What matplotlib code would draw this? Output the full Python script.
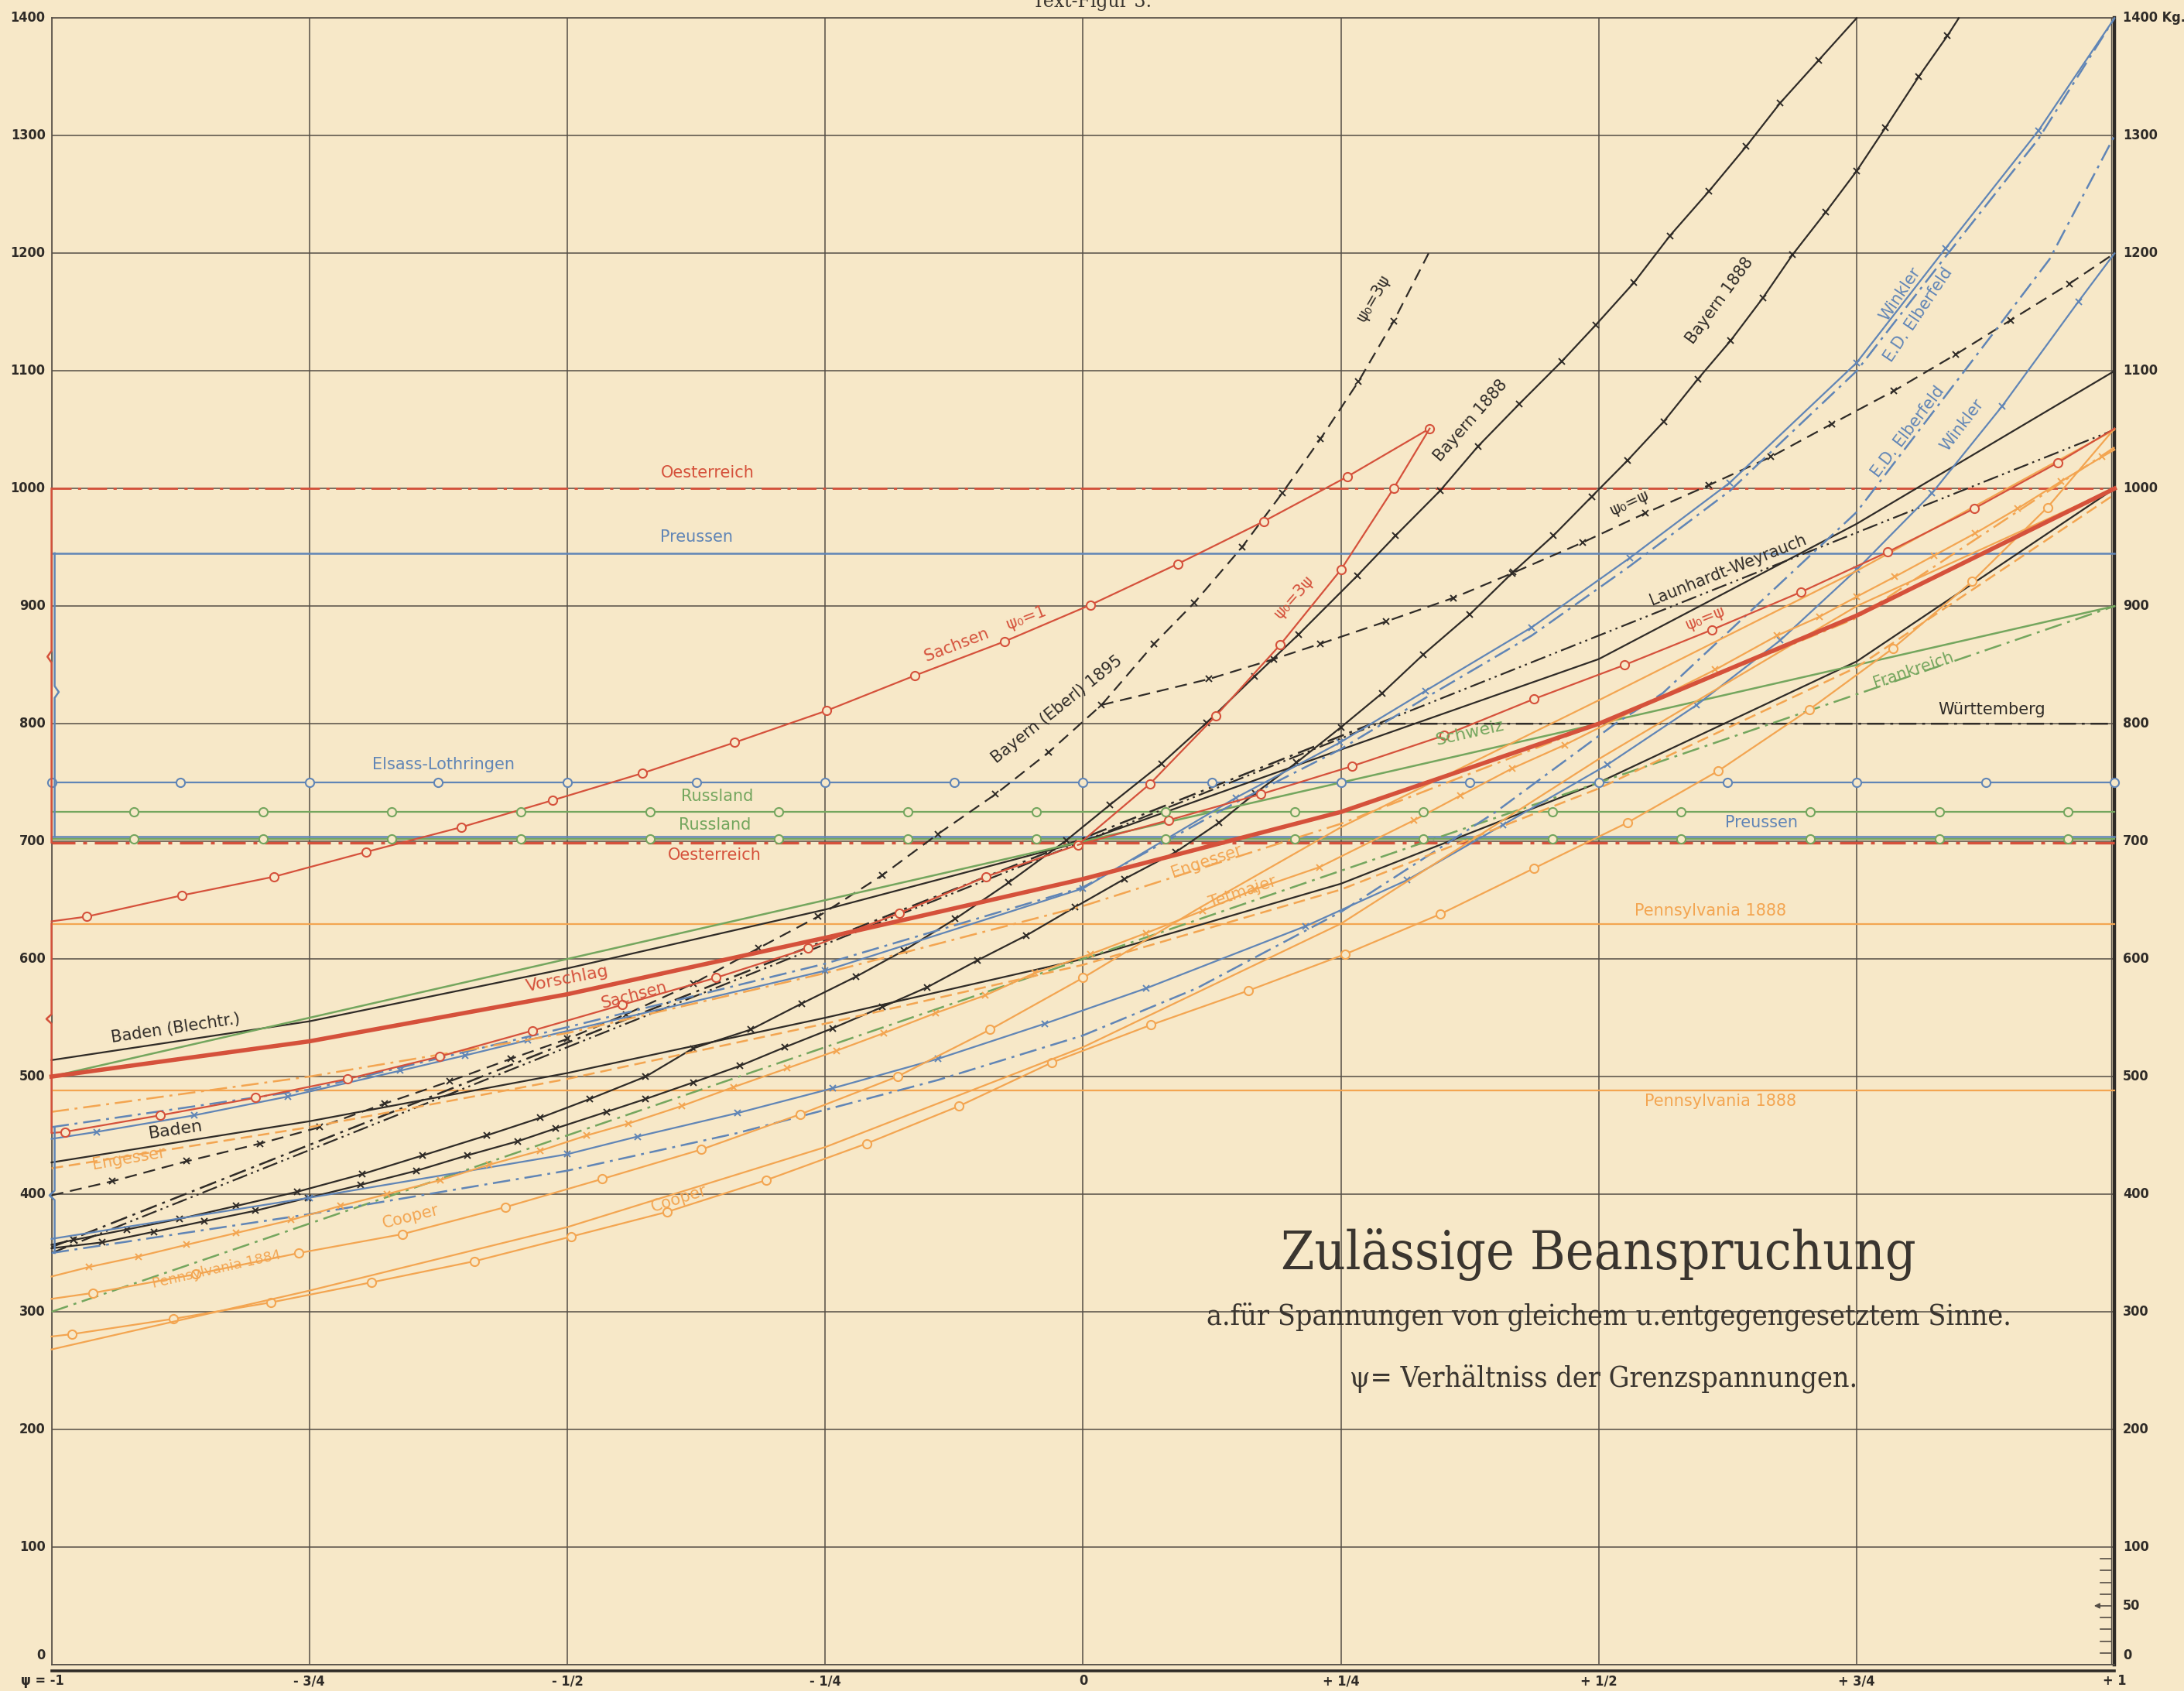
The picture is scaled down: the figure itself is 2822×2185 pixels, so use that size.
import numpy as np
import matplotlib.pyplot as plt

# ---------------------------------------------------------------------------
# data: psi = ratio of the limit stresses, values = allowable stress (kg)
# ---------------------------------------------------------------------------
x_grid = [-1.0, -0.75, -0.5, -0.25, 0.0, 0.25, 0.5, 0.75, 1.0]
x_labels = ["ψ = -1", "- 3/4", "- 1/2", "- 1/4", "0", "+ 1/4", "+ 1/2", "+ 3/4", "+ 1"]
y_grid = [0, 100, 200, 300, 400, 500, 600, 700, 800, 900, 1000, 1100, 1200, 1300, 1400]

# constant regulations
oesterreich_hi = 1000
oesterreich_lo = 699
preussen_hi = 945
preussen_lo = 704
elsass = 750
russland_hi = 725
russland_lo = 702
pennsylvania88_hi = 630
pennsylvania88_lo = 488

elsass_marks = [-1.0, -0.875, -0.75, -0.625, -0.5, -0.375, -0.25, -0.125, 0.0,
                0.125, 0.25, 0.375, 0.5, 0.625, 0.75, 0.875, 1.0]
russland_marks = [-0.92, -0.795, -0.67, -0.545, -0.42, -0.295, -0.17, -0.045,
                  0.08, 0.205, 0.33, 0.455, 0.58, 0.705, 0.83, 0.955]

wuerttemberg_psi = [-1.0, 0.28, 1.0]
wuerttemberg_val = [355, 800, 800]

launhardt_psi = [-1.0, 0.0, 1.0]
launhardt_val = [350, 700, 1050]

schweiz_psi = [-1.0, 0.0, 1.0]
schweiz_val = [500, 700, 900]

frankreich_psi = [-1.0, 1.0]
frankreich_val = [300, 900]

# Sachsen
sachsen1_psi = [-1.0, -0.966, -0.874, -0.784, -0.695, -0.603, -0.514, -0.427, -0.338,
                -0.249, -0.163, -0.076, 0.007, 0.092, 0.175, 0.256, 0.336]
sachsen1_val = [632, 636, 654, 670, 691, 712, 735, 758, 784, 811, 841, 870, 901, 936,
                972, 1010, 1051]
sachsen3_psi = [-1.0, -0.987, -0.895, -0.802, -0.713, -0.624, -0.534, -0.447, -0.356,
                -0.267, -0.178, -0.094, -0.005, 0.065, 0.129, 0.191, 0.25, 0.301, 0.336]
sachsen3_val = [452, 453, 467, 482, 498, 517, 539, 561, 584, 609, 639, 670, 697, 749,
                807, 867, 931, 1000, 1051]
sachsen_eq_psi = [-0.005, 0.083, 0.172, 0.261, 0.35, 0.437, 0.525, 0.61, 0.696, 0.78,
                  0.864, 0.945, 1.0]
sachsen_eq_val = [697, 718, 740, 764, 790, 821, 850, 880, 912, 946, 983, 1022, 1051]

vorschlag_psi = [-1.0, -0.75, -0.5, -0.25, 0.0, 0.25, 0.5, 0.75, 1.0]
vorschlag_val = [500, 530, 570, 618, 668, 725, 800, 892, 1000]

baden_blech_psi = [-1.0, -0.75, -0.5, -0.25, 0.0, 0.25, 0.5, 0.75, 1.0]
baden_blech_val = [514, 547, 592, 642, 700, 778, 855, 970, 1100]
baden_psi = [-1.0, -0.75, -0.5, -0.25, 0.0, 0.25, 0.5, 0.75, 1.0]
baden_val = [427, 462, 503, 550, 600, 664, 750, 853, 1000]

# Bayern 1888 (two curves) and Bayern (Eberl) 1895
bayern_a_psi = [-1.0, -0.979, -0.927, -0.876, -0.821, -0.762, -0.699, -0.64, -0.578,
                -0.526, -0.478, -0.424, -0.378, -0.322, -0.273, -0.22, -0.174, -0.124,
                -0.072, -0.016, 0.026, 0.076, 0.12, 0.166, 0.209, 0.266, 0.303, 0.346,
                0.383, 0.423, 0.464, 0.497, 0.534, 0.569, 0.607, 0.643, 0.676, 0.713, 0.75]
bayern_a_val = [357, 361, 370, 379, 390, 402, 417, 433, 450, 465, 481, 500, 524, 540,
                562, 585, 607, 634, 665, 701, 731, 766, 801, 840, 876, 926, 960, 998,
                1036, 1072, 1108, 1139, 1175, 1215, 1253, 1291, 1328, 1364, 1400]
bayern_b_psi = [-1.0, -0.951, -0.901, -0.852, -0.802, -0.751, -0.7, -0.646, -0.597,
                -0.548, -0.511, -0.462, -0.424, -0.378, -0.333, -0.289, -0.243, -0.195,
                -0.151, -0.102, -0.055, -0.008, 0.04, 0.09, 0.132, 0.167, 0.207, 0.25,
                0.29, 0.33, 0.375, 0.417, 0.456, 0.493, 0.528, 0.563, 0.596, 0.628,
                0.659, 0.688, 0.72, 0.75, 0.778, 0.81, 0.838, 0.849]
bayern_b_val = [354, 359, 368, 377, 386, 397, 408, 420, 433, 445, 456, 470, 481, 495,
                509, 525, 541, 559, 576, 599, 620, 644, 668, 691, 716, 741, 767, 797,
                826, 859, 893, 929, 960, 993, 1024, 1057, 1093, 1126, 1162, 1199, 1235,
                1270, 1307, 1350, 1385, 1400]
eberl_psi = [-1.0, -0.941, -0.869, -0.798, -0.74, -0.677, -0.614, -0.555, -0.5, -0.443,
             -0.378, -0.315, -0.257, -0.195, -0.141, -0.085, -0.033, 0.018]
eberl_val = [399, 411, 428, 443, 457, 477, 496, 515, 532, 553, 579, 609, 636, 671, 706,
             740, 776, 816]
eberl3_psi = [0.018, 0.069, 0.108, 0.154, 0.193, 0.23, 0.267, 0.301, 0.335]
eberl3_val = [816, 868, 903, 950, 996, 1042, 1091, 1142, 1200]
eberl1_psi = [0.018, 0.122, 0.185, 0.23, 0.294, 0.359, 0.416, 0.484, 0.545, 0.607,
              0.667, 0.726, 0.786, 0.846, 0.899, 0.956, 1.0]
eberl1_val = [816, 838, 855, 868, 887, 907, 928, 954, 979, 1003, 1027, 1055, 1083, 1114,
              1143, 1174, 1200]

# Winkler / E.D. Elberfeld
ed_hi_psi = [-1.0, -0.75, -0.5, -0.25, 0.0, 0.148, 0.249, 0.332, 0.435, 0.53, 0.627,
             0.75, 0.836, 0.926, 1.0]
ed_hi_val = [457, 489, 542, 596, 661, 733, 778, 822, 875, 934, 998, 1100, 1197, 1297, 1400]
winkler_hi_psi = [-1.0, -0.956, -0.862, -0.771, -0.662, -0.599, -0.538, -0.25, 0.0,
                  0.148, 0.249, 0.332, 0.435, 0.53, 0.627, 0.75, 0.836, 0.926, 1.0]
winkler_hi_val = [447, 453, 467, 483, 505, 518, 531, 590, 660, 737, 784, 828, 882, 941,
                  1005, 1107, 1204, 1304, 1400]
winkler_lo_psi = [-1.0, -0.75, -0.5, -0.432, -0.335, -0.243, -0.141, -0.037, 0.061, 0.216,
                  0.314, 0.407, 0.508, 0.595, 0.676, 0.75, 0.823, 0.891, 0.965, 1.0]
winkler_lo_val = [362, 397, 434, 449, 469, 490, 515, 545, 575, 628, 667, 714, 765, 816,
                  871, 931, 996, 1070, 1159, 1200]
ed_lo_psi = [-1.0, -0.75, -0.5, -0.335, -0.141, 0.0, 0.11, 0.25, 0.4, 0.516, 0.562,
             0.75, 0.885, 0.937, 1.0]
ed_lo_val = [350, 383, 420, 452, 497, 535, 575, 640, 725, 800, 826, 980, 1135, 1195, 1300]

# orange group
engesser_psi = [-1.0, -0.75, -0.5, -0.25, 0.0, 0.25, 0.5, 0.75, 1.0]
engesser_val = [470, 500, 537, 588, 645, 715, 800, 890, 1035]
engesser2_psi = [-1.0, -0.75, -0.5, -0.25, 0.0, 0.25, 0.5, 0.75, 1.0]
engesser2_val = [422, 457, 498, 545, 595, 659, 745, 848, 995]
tetmajer_psi = [-1.0, -0.964, -0.916, -0.869, -0.821, -0.768, -0.72, -0.675, -0.623,
                -0.576, -0.526, -0.481, -0.441, -0.389, -0.339, -0.287, -0.239, -0.193,
                -0.143, -0.095, -0.047, 0.007, 0.061, 0.116, 0.166, 0.229, 0.321, 0.366,
                0.416, 0.467, 0.613, 0.673, 0.714, 0.75, 0.787, 0.825, 0.865, 0.906,
                0.948, 0.988, 1.0]
tetmajer_val = [330, 338, 347, 357, 367, 378, 390, 400, 412, 425, 437, 450, 460, 475,
                491, 507, 522, 537, 554, 569, 588, 604, 622, 641, 659, 678, 718, 739,
                762, 782, 846, 875, 891, 908, 925, 943, 962, 983, 1006, 1027, 1033]
cooper1_psi = [-1.0, -0.96, -0.86, -0.76, -0.66, -0.56, -0.466, -0.37, -0.274, -0.18,
               -0.09, 0.0, 0.11, 0.25, 0.5, 0.75, 1.0]
cooper1_val = [311, 316, 332, 350, 366, 389, 413, 438, 468, 500, 540, 584, 642, 712, 820,
               930, 1050]
cooper2_psi = [-1.0, -0.98, -0.882, -0.787, -0.69, -0.59, -0.496, -0.403, -0.307, -0.21,
               -0.12, -0.03, 0.066, 0.16, 0.254, 0.346, 0.437, 0.528, 0.616, 0.704, 0.785,
               0.862, 0.935, 1.0]
cooper2_val = [279, 281, 294, 308, 325, 343, 364, 385, 412, 443, 475, 512, 544, 573, 604,
               638, 677, 716, 760, 812, 864, 921, 984, 1051]
penn84_psi = [-1.0, -0.75, -0.5, -0.25, 0.0, 0.25, 0.5, 0.75, 1.0]
penn84_val = [268, 318, 372, 440, 525, 630, 770, 900, 1000]

# ---------------------------------------------------------------------------
PAPER = "#f7e8c8"
RED = "#d5513b"
BLUE = "#6085b6"
GREEN = "#74a65e"
ORANGE = "#f3a551"
BLACK = "#2f2b27"
GRID = "#544d45"

DASHDOT = (0, (9, 3, 1.5, 3))
DASHDOTDOT = (0, (9, 2.5, 1.2, 2.5, 1.2, 2.5))
DASHED = (0, (7, 4))

plt.rcParams["font.family"] = ["DejaVu Sans"]

fig = plt.figure(figsize=(28.22, 21.85), dpi=100)
fig.patch.set_facecolor(PAPER)
ax = fig.add_axes([0.0236, 0.0156, 0.9446, 0.9737])
ax.set_facecolor(PAPER)
ax.set_xlim(-1, 1)
ax.set_ylim(0, 1400)
ax.set_xticks(x_grid)
ax.set_yticks(y_grid)
ax.tick_params(length=0, labelleft=False, labelbottom=False)
ax.grid(True, color=GRID, lw=1.1, zorder=0)
for s in ax.spines.values():
    s.set_color(GRID)
    s.set_linewidth(1.2)
ax.spines["right"].set_linewidth(3.2)
ax.spines["right"].set_color(BLACK)
ax.axvline(0.9965, color=GRID, lw=1.0, zorder=1)
ax.plot([-1, 1], [-5, -5], color=BLACK, lw=2.6, clip_on=False)


def line(psi, val, color, lw=1.6, ls="-", marker=None, every=None, z=3):
    kw = dict(color=color, lw=lw, ls=ls, clip_on=False, zorder=z)
    if marker == "o":
        kw.update(marker="o", ms=8, mfc=PAPER, mew=1.5, markevery=every)
    elif marker == "x":
        kw.update(marker="x", ms=6, mew=1.4, markevery=every)
    ax.plot(psi, val, **kw)


def hline(y, color, lw=1.6, ls="-", marks=None, marker=None, x0=-1.0):
    ax.plot([x0, 1.0], [y, y], color=color, lw=lw, ls=ls, clip_on=False, zorder=3)
    if marks is not None:
        ax.plot(marks, [y] * len(marks), ls="none", marker=marker, ms=8, mfc=PAPER,
                mec=color, mew=1.5, clip_on=False, zorder=4)


def tag(x, y, s, slope=0.0, color=BLACK, size=15, **kw):
    ax.text(x, y, s, color=color, fontsize=size, rotation=np.degrees(np.arctan(slope)),
            transform_rotates_text=True, rotation_mode="anchor", ha="center",
            va="center", zorder=6, **kw)


# horizontal regulations
hline(oesterreich_hi, RED, lw=2.0, ls=DASHDOT)
hline(preussen_hi, BLUE, lw=1.8)
hline(elsass, BLUE, marks=elsass_marks, marker="o")
hline(russland_hi, GREEN, marks=russland_marks, marker="o")
hline(preussen_lo, BLUE, lw=1.8)
hline(russland_lo, GREEN, marks=russland_marks, marker="o")
hline(oesterreich_lo, RED, lw=2.4, ls=DASHDOT)
hline(pennsylvania88_hi, ORANGE)
hline(pennsylvania88_lo, ORANGE)

# brackets at the left edge
ax.plot([-1.0, -1.0, -1.004, -1.0, -1.0], [1000, 862, 857, 852, 699], color=RED, lw=1.8,
        clip_on=False, zorder=4)
ax.plot([-0.997, -0.997, -0.993, -0.997, -0.997], [945, 832, 827, 822, 704], color=BLUE,
        lw=1.8, clip_on=False, zorder=4)
ax.plot([-1.0, -1.0, -1.005, -1.0, -1.0], [630, 553, 549, 545, 453], color=RED, lw=1.8,
        clip_on=False, zorder=4)
ax.plot([-0.997, -0.997, -1.002, -0.997, -0.997], [457, 403, 399, 395, 350], color=BLUE,
        lw=1.8, clip_on=False, zorder=4)

# black group
line(wuerttemberg_psi, wuerttemberg_val, BLACK, lw=1.8, ls=DASHDOT)
line(launhardt_psi, launhardt_val, BLACK, lw=1.6, ls=DASHDOTDOT)
line(baden_blech_psi, baden_blech_val, BLACK)
line(baden_psi, baden_val, BLACK)
line(bayern_a_psi, bayern_a_val, BLACK, marker="x", every=slice(1, -1))
line(bayern_b_psi, bayern_b_val, BLACK, marker="x", every=slice(1, -1))
line(eberl_psi, eberl_val, BLACK, ls=DASHED, marker="x", every=slice(1, None))
line(eberl3_psi, eberl3_val, BLACK, ls=DASHED, marker="x", every=slice(1, -1))
line(eberl1_psi, eberl1_val, BLACK, ls=DASHED, marker="x", every=slice(1, -1))

# green group
line(schweiz_psi, schweiz_val, GREEN, lw=1.8)
line(frankreich_psi, frankreich_val, GREEN, lw=1.8, ls=DASHDOT)

# blue group
line(ed_hi_psi, ed_hi_val, BLUE, lw=1.8, ls=DASHDOT)
line(winkler_hi_psi, winkler_hi_val, BLUE, marker="x", every=slice(1, -1))
line(ed_lo_psi, ed_lo_val, BLUE, lw=1.8, ls=DASHDOT)
line(winkler_lo_psi, winkler_lo_val, BLUE, marker="x", every=slice(1, -1))

# orange group
line(engesser_psi, engesser_val, ORANGE, lw=1.8, ls=DASHDOT)
line(engesser2_psi, engesser2_val, ORANGE, lw=1.8, ls=(0, (6, 3)))
line(tetmajer_psi, tetmajer_val, ORANGE, marker="x", every=slice(1, -1))
line(cooper1_psi, cooper1_val, ORANGE, marker="o", every=slice(1, 12))
line(cooper2_psi, cooper2_val, ORANGE, marker="o", every=slice(1, -1))
line(penn84_psi, penn84_val, ORANGE)

# red group
line(sachsen1_psi, sachsen1_val, RED, marker="o", every=slice(1, None))
line(sachsen3_psi, sachsen3_val, RED, marker="o", every=slice(1, -1))
line(sachsen_eq_psi, sachsen_eq_val, RED, marker="o", every=slice(1, -1))
line(vorschlag_psi, vorschlag_val, RED, lw=4.0, z=4)

# labels on the curves
tag(-0.364, 1013, "Oesterreich", 0, RED)
tag(-0.375, 959, "Preussen", 0, BLUE)
tag(-0.62, 765, "Elsass-Lothringen", 0, BLUE)
tag(-0.355, 738, "Russland", 0, GREEN)
tag(-0.357, 714, "Russland", 0, GREEN)
tag(-0.357, 688, "Oesterreich", 0, RED)
tag(0.658, 716, "Preussen", 0, BLUE)
tag(0.881, 812, "Württemberg", 0, BLACK)
tag(0.608, 641, "Pennsylvania 1888", 0, ORANGE)
tag(0.618, 479, "Pennsylvania 1888", 0, ORANGE)
tag(-0.095, 876, "Sachsen    ψ₀=1", 340, RED)
tag(0.205, 908, "ψ₀=3ψ", 1000, RED)
tag(-0.025, 812, "Bayern (Eberl) 1895", 700, BLACK)
tag(0.282, 1162, "ψ₀=3ψ", 1500, BLACK)
tag(0.376, 1058, "Bayern 1888", 1000, BLACK)
tag(0.617, 1160, "Bayern 1888", 1200, BLACK)
tag(0.53, 988, "ψ₀=ψ", 400, BLACK)
tag(0.625, 931, "Launhardt-Weyrauch", 350, BLACK)
tag(0.604, 890, "ψ₀=ψ", 350, RED)
tag(0.792, 1165, "Winkler", 1300, BLUE)
tag(0.81, 1148, "E.D. Elberfeld", 1300, BLUE)
tag(0.8, 1048, "E.D. Elberfeld", 1150, BLUE)
tag(0.852, 1054, "Winkler", 1150, BLUE)
tag(0.375, 792, "Schweiz", 200, GREEN, size=16)
tag(0.805, 846, "Frankreich", 300, GREEN)
tag(0.12, 683, "Engesser", 300, ORANGE)
tag(0.155, 657, "Tetmajer", 300, ORANGE)
tag(-0.88, 541, "Baden (Blechtr.)", 130, BLACK)
tag(-0.5, 583, "Vorschlag", 170, RED, size=16)
tag(-0.435, 569, "Sachsen", 230, RED)
tag(-0.88, 455, "Baden", 130, BLACK, size=16)
tag(-0.925, 430, "Engesser", 150, ORANGE)
tag(-0.652, 381, "Cooper", 220, ORANGE)
tag(-0.392, 396, "Cooper", 280, ORANGE)
tag(-0.84, 336, "Pennsylvania 1884", 200, ORANGE, size=13)

# axis numbers
num = dict(fontsize=13, color=BLACK, fontweight="bold", fontstretch="condensed", zorder=6)
for v in y_grid:
    ax.text(-1.006, v + (8 if v == 0 else 0), str(v), ha="right", va="center", clip_on=False, **num)
    if v == 1400:
        ax.text(1.008, v, "1400 Kg.", ha="left", va="center", clip_on=False, **num)
    else:
        ax.text(1.008, v + (8 if v == 0 else 0), str(v), ha="left", va="center", clip_on=False, **num)
ax.text(1.008, 50, "50", ha="left", va="center", clip_on=False, **num)
for xv, lab in zip(x_grid, x_labels):
    ha = "left" if xv == -1.0 else "center"
    ax.text(xv - (0.03 if xv == -1.0 else 0), -14, lab, ha=ha, va="center", clip_on=False, **num)

# small scale at the lower right
for v in [10, 20, 30, 40, 50, 60, 70, 80, 90]:
    ax.plot([0.986, 0.9965], [v, v], color=GRID, lw=1.2, zorder=5)
ax.annotate("", xy=(0.978, 50), xytext=(0.986, 50),
            arrowprops=dict(arrowstyle="-|>", color=GRID, lw=1.2, mutation_scale=10))

# title block
title = dict(family=["DejaVu Serif"], fontstretch="condensed", color="#3a352f",
             ha="center", va="center", zorder=6)
ax.text(0.5, 349, "Zulässige Beanspruchung", fontsize=50, fontweight="light", **title)
ax.text(0.51, 296, "a.für Spannungen von gleichem u.entgegengesetztem Sinne.", fontsize=27, **title)
ax.text(0.505, 243, "ψ= Verhältniss der Grenzspannungen.", fontsize=27, **title)

fig.text(0.5, 0.999, "Text-Figur 3.", ha="center", va="center", fontsize=17,
         family=["DejaVu Serif"], color="#3a352f")

fig.savefig("out.png", dpi=100, facecolor=PAPER)
